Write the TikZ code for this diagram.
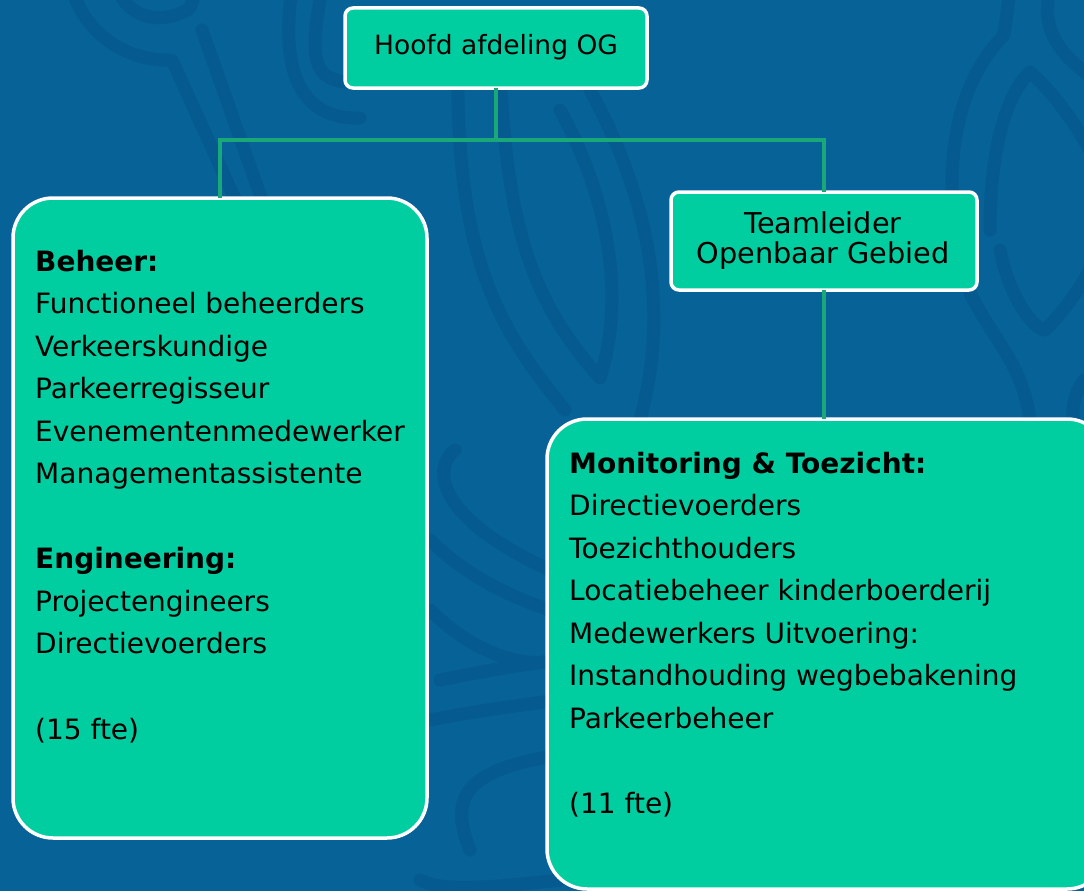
\documentclass[tikz,border=0pt]{standalone}
\usepackage{fontspec}
\setmainfont{DejaVu Sans}
\definecolor{bgblue}{RGB}{7,98,152}
\definecolor{patblue}{RGB}{5,90,143}
\definecolor{boxgreen}{RGB}{0,206,160}
\definecolor{linkgreen}{RGB}{26,168,120}
\begin{document}
\begin{tikzpicture}[x=1pt,y=-1pt,
  pat/.style={draw=patblue,line width=13pt,line cap=round,line join=round},
  smallbox/.style={draw=white,line width=3.5pt,fill=boxgreen,rounded corners=8pt,inner sep=0pt,outer sep=0pt},
  bigbox/.style={draw=white,line width=3.5pt,fill=boxgreen,rounded corners=40pt,inner sep=0pt,outer sep=0pt},
  link/.style={draw=linkgreen,line width=4pt},
  txt/.style={font=\fontsize{28}{32}\selectfont,text=black,inner sep=0pt},
  line/.style={txt,anchor=base west}]
% background
\fill[bgblue] (0,0) rectangle (1084,891);
\useasboundingbox (0,0) rectangle (1084,891);
\begin{scope}
\clip (0,0) rectangle (1084,891);
% decorative pattern
\draw[pat] (72,-10) .. controls (90,45) and (140,62) .. (172,60) -- (240,210);
\draw[pat] (118,-10) .. controls (130,20) and (165,25) .. (190,8) -- (196,-10);
\draw[pat] (202,30) -- (262,200);
\draw[pat] (292,-10) .. controls (280,70) and (300,120) .. (360,118);
\draw[pat] (322,-10) .. controls (308,60) and (315,78) .. (345,82);
\draw[pat] (458,60) .. controls (455,260) and (500,330) .. (565,410);
\draw[pat] (500,60) .. controls (505,240) and (540,310) .. (600,378)
  .. controls (625,300) and (610,200) .. (560,110);
\draw[pat] (640,420) .. controls (670,310) and (650,200) .. (590,90);
\draw[pat] (1010,-10) -- (1004,35) .. controls (960,80) and (945,150) .. (955,230);
\draw[pat] (955,230) .. controls (960,320) and (1020,340) .. (1030,420);
\draw[pat] (1000,250) .. controls (1010,300) and (1035,330) .. (1045,330)
  .. controls (1075,300) and (1090,270) .. (1095,260);
\draw[pat] (990,230) .. controls (990,140) and (1010,90) .. (1030,72)
  .. controls (1050,90) and (1075,120) .. (1095,160);
\draw[pat] (1050,-10) .. controls (1040,30) and (1060,55) .. (1095,80);
\draw[pat] (1084,380) .. controls (1070,400) and (1070,420) .. (1080,440);
\draw[pat] (455,450) .. controls (430,470) and (440,520) .. (550,570);
\draw[pat] (430,540) .. controls (470,580) and (520,600) .. (550,610);
\draw[pat] (430,610) .. controls (470,650) and (520,670) .. (560,660);
\draw[pat] (440,680) .. controls (490,670) and (520,665) .. (560,660);
\draw[pat] (430,720) .. controls (470,712) and (520,705) .. (560,700);
\draw[pat] (470,850) .. controls (450,800) and (460,770) .. (560,755);
\draw[pat] (420,880) .. controls (440,890) and (470,890) .. (560,880);
\end{scope}
% boxes
\node[smallbox,anchor=north west,minimum width=302pt,minimum height=80pt] (hoofd) at (345,8) {};
\node[smallbox,anchor=north west,minimum width=306pt,minimum height=98pt] (team) at (671,192) {};
\node[bigbox,anchor=north west,minimum width=414pt,minimum height=640pt] (beheer) at (13,198) {};
\node[bigbox,anchor=north west,minimum width=560pt,minimum height=470pt] (monitor) at (547,419) {};
% connectors
\coordinate (split) at (hoofd.south |- 0,140);
\coordinate (bjoin) at (220,0);
\draw[link] (hoofd.south) -- (split);
\draw[link] (split) -| (beheer.north -| bjoin);
\draw[link] (split) -| (team.north);
\draw[link] (team.south) -- (team.south |- monitor.north);
% texts
\node[txt,font=\fontsize{26.5}{30}\selectfont,anchor=base] (thoofd) at (496,55) {Hoofd afdeling OG};
\node[txt,font=\fontsize{28.7}{30}\selectfont,anchor=base] (tteam1) at (823,233) {Teamleider};
\node[txt,font=\fontsize{28.7}{30}\selectfont,anchor=base] (tteam2) at (823,263) {Openbaar Gebied};
\node[line] (b1) at (35,271) {\textbf{Beheer:}};
\node[line] (b2) at (35,313.5) {Functioneel beheerders};
\node[line] (b3) at (35,356) {Verkeerskundige};
\node[line] (b4) at (35,398.5) {Parkeerregisseur};
\node[line] (b5) at (35,441) {Evenementenmedewerker};
\node[line] (b6) at (35,483.5) {Managementassistente};
\node[line] (b7) at (35,568.5) {\textbf{Engineering:}};
\node[line] (b8) at (35,611) {Projectengineers};
\node[line] (b9) at (35,653.5) {Directievoerders};
\node[line] (b10) at (35,739) {(15 fte)};
\node[line] (m1) at (569,473) {\textbf{Monitoring \& Toezicht:}};
\node[line] (m2) at (569,515.5) {Directievoerders};
\node[line] (m3) at (569,558) {Toezichthouders};
\node[line] (m4) at (569,600.5) {Locatiebeheer kinderboerderij};
\node[line] (m5) at (569,643) {Medewerkers Uitvoering:};
\node[line] (m6) at (569,685.5) {Instandhouding wegbebakening};
\node[line] (m7) at (569,728) {Parkeerbeheer};
\node[line] (m8) at (569,813) {(11 fte)};
\end{tikzpicture}
\end{document}
